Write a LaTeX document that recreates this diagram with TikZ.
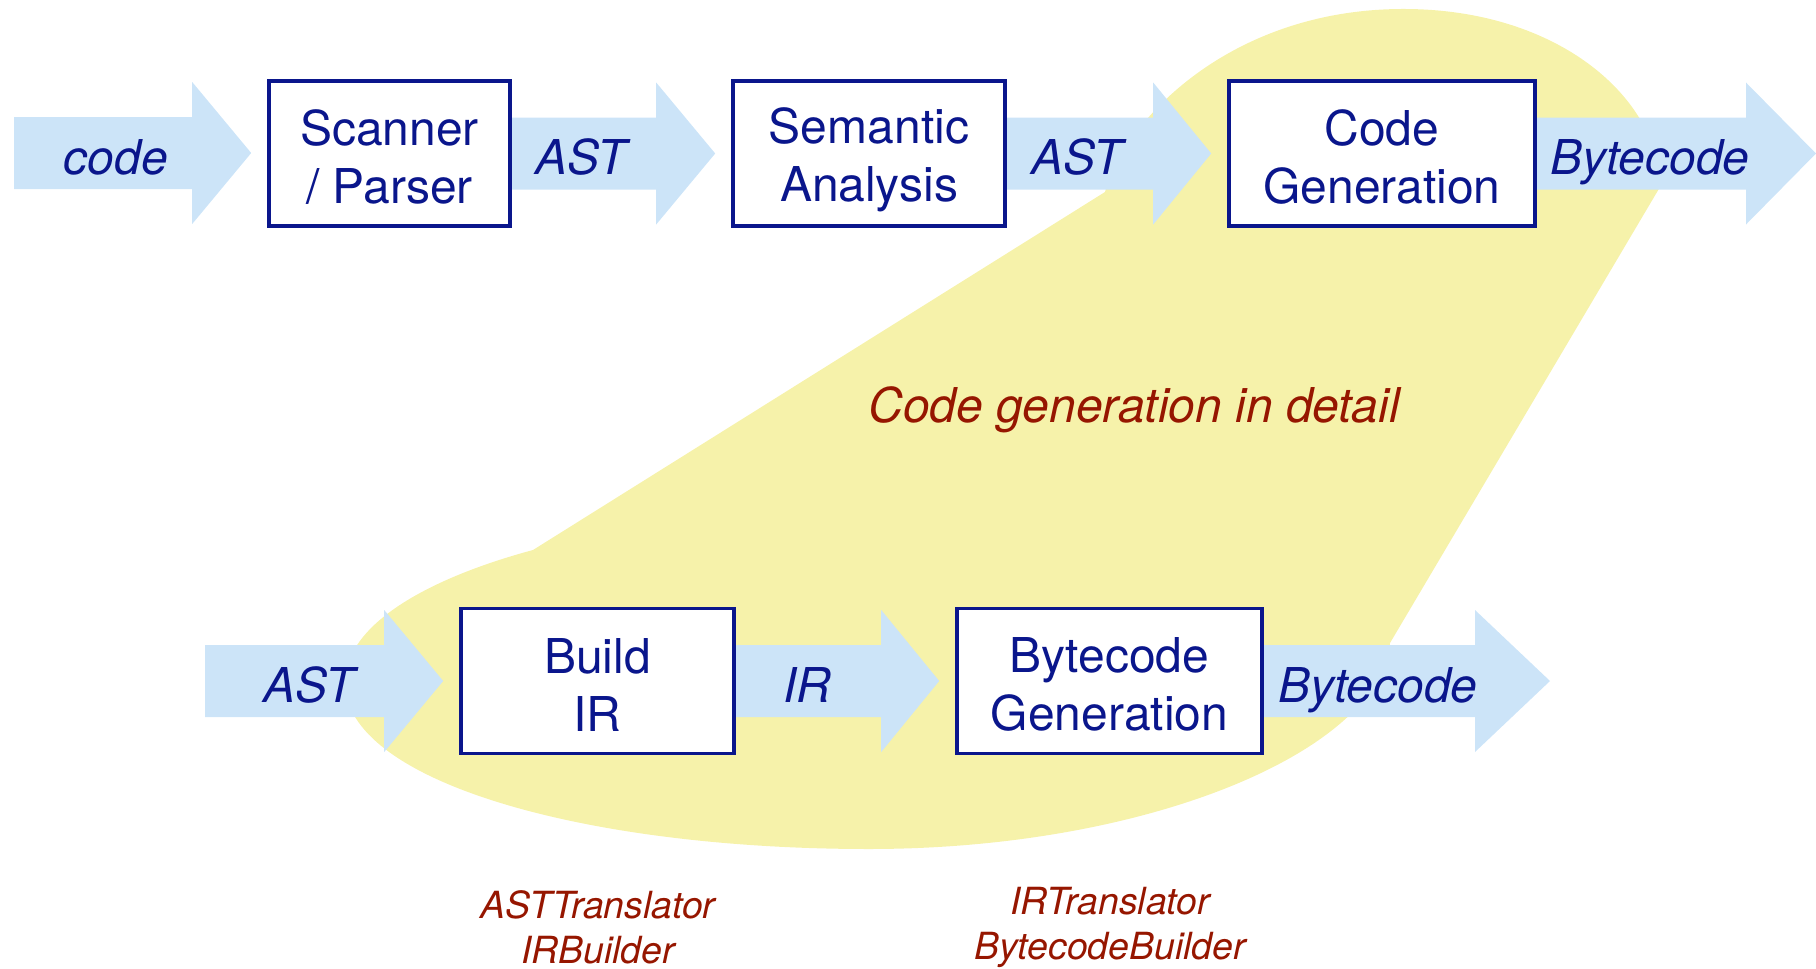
\documentclass[tikz,border=0pt]{standalone}
\usepackage{fontspec}
\setmainfont{TeX Gyre Heros}
\usetikzlibrary{calc}
\definecolor{navy}{RGB}{10,22,140}
\definecolor{flowblue}{RGB}{204,228,248}
\definecolor{blobyellow}{RGB}{246,242,170}
\definecolor{notered}{RGB}{150,22,0}
\pgfdeclarelayer{bg}
\pgfsetlayers{bg,main}

% block arrow: start point, tip point, head length
\newcommand\flowarrow[3]{%
  \fill[flowblue] let \p1=(#1), \p2=(#2) in
    (\x1,\y1+18pt) -- (\x2-#3,\y1+18pt) -- (\x2-#3,\y1+35.5pt) -- (\x2,\y1)
    -- (\x2-#3,\y1-35.5pt) -- (\x2-#3,\y1-18pt) -- (\x1,\y1-18pt) -- cycle;}

\tikzset{
  stage/.style={draw=navy, line width=1.8pt, fill=white, inner sep=0pt, minimum height=72.5pt},
  stagetext/.style={text=navy, align=center, inner sep=0pt, yshift=-1.8pt,
    font=\fontsize{24}{29}\selectfont},
  flowlabel/.style={text=navy, anchor=base, font=\fontsize{24}{29}\selectfont\itshape, inner sep=0pt},
  note/.style={text=notered, font=\fontsize{18.7}{22.5}\selectfont\itshape, align=center, inner sep=0pt},
}

\begin{document}
\begin{tikzpicture}[x=0.5pt,y=-0.5pt]
\useasboundingbox (0,0) rectangle (1816,969);

% pipeline stages
\node[stage, minimum width=120.5pt] (scan) at (389.5,153.5) {};
\node[stage, minimum width=136pt]   (sem)  at (869,153.5)   {};
\node[stage, minimum width=153pt]   (cg)   at (1382,153.5)  {};
\node[stage, minimum width=136.5pt] (bir)  at (597.5,681)   {};
\node[stage, minimum width=152.5pt] (bg)   at (1109.5,681)  {};
\node[stagetext] (scant) at (scan) {Scanner\\/ Parser};
\node[stagetext, yshift=-1.6pt] (semt) at (sem) {Semantic\\Analysis};
\node[stagetext] (cgt)   at (cg)   {Code\\Generation};
\node[stagetext] (birt)  at (bir)  {Build\\IR};
\node[stagetext] (bgt)   at (bg)   {Bytecode\\Generation};

\coordinate (src)  at (14,153);
\coordinate (sink) at (1816,153);
\coordinate (src2) at (205,681);
\coordinate (sink2) at (1550,681);

\begin{pgfonlayer}{bg}
  % highlighted region for the detailed code generation
  \fill[blobyellow] (533,550) -- (1105,192)
    .. controls (1125,120) and (1230,10) .. (1401,9)
    .. controls (1560,8) and (1660,100) .. (1660,187)
    -- (1390,643)
    .. controls (1380,750) and (1150,849) .. (869,849)
    .. controls (580,849) and (345,780) .. (345,683)
    .. controls (345,620) and (440,575) .. (533,550) -- cycle;

  \flowarrow{src}{$(scan.west)+(-16,0)$}{29.5pt}
  \flowarrow{scan.east}{$(sem.west)+(-16,0)$}{29.5pt}
  \flowarrow{sem.east}{$(cg.west)+(-16,0)$}{29pt}
  \flowarrow{cg.east}{sink}{35pt}
  \flowarrow{src2}{$(bir.west)+(-16,0)$}{29.5pt}
  \flowarrow{bir.east}{$(bg.west)+(-16,0)$}{29pt}
  \flowarrow{bg.east}{sink2}{37.5pt}
\end{pgfonlayer}

% labels on the data flows
\node[flowlabel] (l1) at (116,174)  {code};
\node[flowlabel] (l2) at (581,174)  {AST};
\node[flowlabel] (l3) at (1077,174) {AST};
\node[flowlabel] (l4) at (1650,174) {Bytecode};
\node[flowlabel] (l5) at (309,702)  {AST};
\node[flowlabel] (l6) at (807,702)  {IR};
\node[flowlabel] (l7) at (1378,702) {Bytecode};

\node[text=notered, font=\fontsize{24}{29}\selectfont\itshape, inner sep=0pt] (title) at (1134,410) {Code generation in detail};

\node[note] (n1) at (598,927)  {ASTTranslator\\IRBuilder};
\node[note] (n2) at (1110,927) {IRTranslator\\BytecodeBuilder};
\end{tikzpicture}
\end{document}
